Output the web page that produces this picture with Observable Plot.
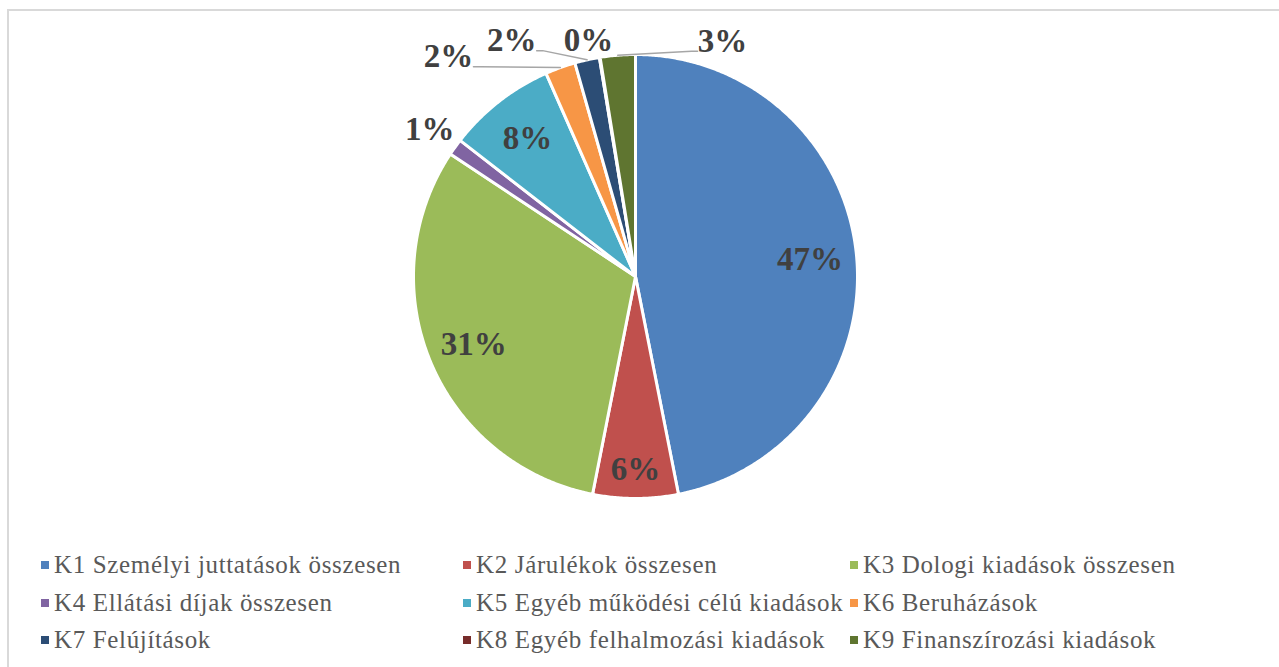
<!DOCTYPE html>
<html><head><meta charset="utf-8">
<script src="https://cdn.jsdelivr.net/npm/d3@7"></script>
<script src="https://cdn.jsdelivr.net/npm/@observablehq/plot@0.6"></script>
<style>
body{margin:0;background:#fff;}
#wrap{position:relative;width:1279px;height:667px;overflow:hidden;background:#fff;}
#chart{position:absolute;left:0;top:0;}
#frame{position:absolute;left:7px;top:9px;width:1400px;height:700px;border-left:2px solid #d9d9d9;border-top:2px solid #d9d9d9;pointer-events:none;}
#legend{position:absolute;left:41px;top:548px;}
.item{position:absolute;display:flex;align-items:center;height:34px;white-space:nowrap;font-family:"Liberation Serif","Times New Roman",serif;font-size:25px;letter-spacing:0.65px;color:#595959;}
.sw{display:inline-block;width:8px;height:8px;margin-right:5px;}
</style></head>
<body><div id="wrap"><div id="chart"></div><div id="legend"></div><div id="frame"></div></div>
<script>
// ---- data ----
const codes = ["K1","K2","K3","K4","K5","K6","K7","K8","K9"];
const categories = [
  "K1 Személyi juttatások összesen",
  "K2 Járulékok összesen",
  "K3 Dologi kiadások összesen",
  "K4 Ellátási díjak összesen",
  "K5 Egyéb működési célú kiadások",
  "K6 Beruházások",
  "K7 Felújítások",
  "K8 Egyéb felhalmozási kiadások",
  "K9 Finanszírozási kiadások"
];
const values = [46.9, 6.2, 31.2, 1.2, 7.9, 2.2, 1.8, 0.05, 2.55];
const colors = ["#4F81BD","#C0504D","#9BBB59","#8064A2","#4BACC6","#F79646","#2C4D75","#772C2A","#5F7530"];

// ---- geometry ----
const W = 1279, H = 540;
const R = 222;            // pixels per unit radius
const CX = 635, CY = 276; // pie center in pixels
const total = d3.sum(values);
const arcs = d3.pie().sort(null).value(d => d)(values);
const deg = Math.PI / 180;

const poly = [];
arcs.forEach((a, i) => {
  const key = categories[i];
  poly.push({key, x: 0, y: 0});
  const n = Math.max(2, Math.ceil((a.endAngle - a.startAngle) / (0.4 * deg)));
  for (let k = 0; k <= n; k++) {
    const t = a.startAngle + (a.endAngle - a.startAngle) * k / n;
    poly.push({key, x: Math.sin(t), y: Math.cos(t)});
  }
});

// label placement (Excel-style: inside for large slices, outside w/ leader for small ones)
const nudge = {K4: [0, 1.14], K6: [-20.6, 1.30], K7: [-15.1, 1.20], K8: [-2, 1.085], K9: [24.9, 1.13]};
const labels = [], leaders = [];
arcs.forEach((a, i) => {
  const share = values[i] / total;
  const mid = (a.startAngle + a.endAngle) / 2;
  const text = Math.round(share * 100) + "%";
  if (share >= 0.05) {
    const r = share < 0.07 ? 0.87 : 0.79;
    labels.push({text, x: r * Math.sin(mid), y: r * Math.cos(mid)});
  } else {
    const [shift, r] = nudge[codes[i]];
    const t = mid + shift * deg;
    const lx = r * Math.sin(t), ly = r * Math.cos(t);
    labels.push({text, x: lx, y: ly});
    const ax = Math.sin(mid), ay = Math.cos(mid);
    const side = lx < ax ? 1 : -1;
    const half = (text.length * 16 + 12) / 2 / R + 3 / R;
    const ex = lx + side * half, ey = ly - 10 / R;
    const dist = Math.hypot(ex - ax, ey - ay) * R;
    if (dist > 25) {
      const key = codes[i];
      leaders.push({key, x: ax, y: ay});
      leaders.push({key, x: ex + side * 6 / R, y: ey});
      leaders.push({key, x: ex, y: ey});
    }
  }
});

const plot = Plot.plot({
  width: W, height: H,
  marginTop: 0, marginBottom: 0, marginLeft: 0, marginRight: 0,
  style: {background: "transparent"},
  x: {domain: [-CX / R, (W - CX) / R], axis: null},
  y: {domain: [-(H - CY) / R, CY / R], axis: null},
  color: {domain: categories, range: colors},
  marks: [
    Plot.line(poly, {x: "x", y: "y", z: "key", fill: "key", stroke: "white", strokeWidth: 3, strokeLinejoin: "round", curve: "linear-closed"}),
    Plot.line(leaders, {x: "x", y: "y", z: "key", stroke: "#a6a6a6", strokeWidth: 1.5}),
    Plot.text(labels, {x: "x", y: "y", text: "text", fontSize: 33, fontWeight: "bold", fill: "#404040", fontFamily: "Liberation Serif"})
  ]
});
document.getElementById("chart").appendChild(plot);

// legend (three columns, Excel layout)
const colLeft = [0, 422, 809];
const leg = document.getElementById("legend");
categories.forEach((c, i) => {
  const col = i % 3, row = Math.floor(i / 3);
  const d = document.createElement("div");
  d.className = "item";
  d.style.left = colLeft[col] + "px";
  d.style.top = (row * 37.5) + "px";
  const sw = document.createElement("span");
  sw.className = "sw"; sw.style.background = colors[i];
  d.appendChild(sw);
  d.appendChild(document.createTextNode(c));
  leg.appendChild(d);
});
</script></body></html>
